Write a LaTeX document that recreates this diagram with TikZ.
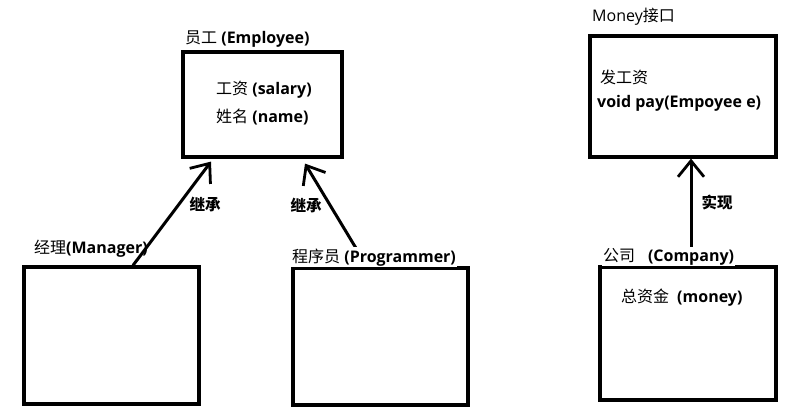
\documentclass[tikz,border=0pt]{standalone}
\usepackage{fontspec}
\setmainfont{Open Sans}
\newfontfamily\cjk{Noto Sans CJK SC}
\newcommand{\zh}[1]{{\cjk #1}}
\usetikzlibrary{arrows.meta}
\begin{document}
\begin{tikzpicture}[
			x=1pt, y=-1pt,
			box/.style={draw, line width=3.2pt, inner sep=0pt},
			lbl/.style={anchor=base west, inner sep=1pt, font=\fontsize{16}{19}\selectfont},
			rel/.style={line width=3pt, -{Straight Barb[length=16pt,width=26pt,line width=2.8pt]}},
			word/.style={font=\fontsize{15.5}{18}\selectfont\bfseries}
		]
		\useasboundingbox (0,0) rectangle (789,409);

		\node[box, minimum width=159, minimum height=105] (employee) at (262.5,104.5) {};
		\node[box, minimum width=175, minimum height=137] (manager) at (111.5,335.5) {};
		\node[box, minimum width=175, minimum height=137] (programmer) at (380.5,336.5) {};
		\node[box, minimum width=186, minimum height=121] (money) at (683,96.5) {};
		\node[box, minimum width=176, minimum height=133] (company) at (688,333.5) {};

		\draw[rel] ([xshift=21.5pt]manager.north) -- ([xshift=-51.5pt,yshift=-3pt]employee.south);
		\draw[rel] ([xshift=-13.5pt]programmer.north) -- ([xshift=42.5pt,yshift=-5pt]employee.south);
		\draw[rel] ([xshift=3pt]company.north) -- ([xshift=8pt]money.south);

		\node[lbl] (employeeTitle) at (184,44) {\zh{员工} \textbf{(Employee)}};
		\node[lbl] (salary) at (215,95) {\zh{工资} \textbf{(salary)}};
		\node[lbl] (name) at (215,122) {\zh{姓名} \textbf{(name)}};
		\node[lbl] (managerTitle) at (33,253) {\zh{经理}\textbf{(Manager)}};
		\node[lbl, fill=white] (programmerTitle) at (291,262) {\zh{程序员} \textbf{(Programmer)}};
		\node[lbl] (moneyTitle) at (591,22) {Money\zh{接口}};
		\node[lbl] (pay) at (599,84) {\zh{发工资}};
		\node[lbl] (paySig) at (596,108) {\textbf{void pay(Empoyee e)}};
		\node[lbl, fill=white] (companyTitle) at (602,261) {\zh{公司}\hspace{0.8em}\textbf{(Company)}};
		\node[lbl] (total) at (620,302) {\zh{总资金}\hspace{0.5em}\textbf{(money)}};

		\node[word, anchor=base west] (inherit1) at (186,210) {\zh{继承}};
		\node[word, anchor=base west] (inherit2) at (287,211) {\zh{继承}};
		\node[word, anchor=base west] (realize) at (698,208) {\zh{实现}};
	\end{tikzpicture}
\end{document}
